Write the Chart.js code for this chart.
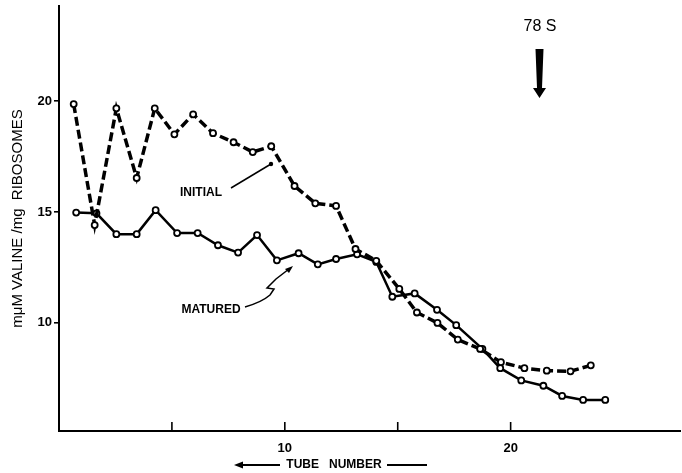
<!DOCTYPE html>
<html>
<head>
<meta charset="utf-8">
<script src="https://cdn.jsdelivr.net/npm/chart.js@4.4.1/dist/chart.umd.min.js"></script>
<style>
  body { margin: 0; background: #fff; }
  #chart { display: block; }
</style>
</head>
<body>
<canvas id="chart" width="682" height="473"></canvas>
<script>
'use strict';

// initial (dashed) curve
let tubeInitial = [0.65, 1.58, 2.54, 3.44, 4.24, 5.11, 5.94, 6.82, 7.73, 8.58, 9.40, 10.43, 11.35,
    12.27, 13.13, 14.05, 15.07, 15.85, 16.76, 17.66, 18.65, 19.57, 20.61, 21.60, 22.65, 23.55];
let valineInitial = [19.86, 14.41, 19.67, 16.53, 19.67, 18.5, 19.4, 18.55, 18.14, 17.7, 17.96, 16.17, 15.39,
    15.27, 13.33, 12.8, 11.53, 10.47, 10.0, 9.25, 8.83, 8.23, 7.96, 7.85, 7.82, 8.09];

// matured (solid) curve
let tubeMatured = [0.76, 1.66, 2.54, 3.44, 4.28, 5.23, 6.14, 7.04, 7.93, 8.77, 9.65, 10.61, 11.46,
    12.27, 13.2, 14.05, 14.76, 15.75, 16.74, 17.59, 18.75, 19.54, 20.47, 21.45, 22.28, 23.21, 24.19];
let valineMatured = [14.97, 14.94, 14.0, 14.0, 15.08, 14.05, 14.05, 13.5, 13.17, 13.96, 12.82, 13.14, 12.64,
    12.88, 13.09, 12.75, 11.18, 11.33, 10.59, 9.9, 8.83, 7.96, 7.41, 7.17, 6.71, 6.53, 6.53];

let yTicks = [10, 15, 20];
let xTickMarks = [5, 10, 15, 20];
let xTickLabels = [10, 20];

function toPoints(xs, ys) {
    return xs.map((x, i) => ({ x: x, y: ys[i] }));
}

const FONT = '"Liberation Sans", "DejaVu Sans", sans-serif';

// inward tick marks on the x axis, arrows and labels
let notesPlugin = {
    id: 'notes',
    afterDraw(chart) {
        const ctx = chart.ctx;
        const xScale = chart.scales.x;
        const bottom = chart.chartArea.bottom;
        ctx.save();
        ctx.strokeStyle = '#000';
        ctx.fillStyle = '#000';
        ctx.lineWidth = 1.6;
        xTickMarks.forEach(v => {
            let x = xScale.getPixelForValue(v);
            ctx.beginPath();
            ctx.moveTo(x, bottom);
            ctx.lineTo(x, bottom - 9);
            ctx.stroke();
        });

        // INITIAL
        ctx.font = 'bold 12px ' + FONT;
        ctx.textAlign = 'center';
        ctx.textBaseline = 'middle';
        ctx.fillText('INITIAL', 201, 193);
        ctx.lineWidth = 1.5;
        ctx.beginPath();
        ctx.moveTo(231, 188);
        ctx.lineTo(271, 164);
        ctx.stroke();
        ctx.beginPath();
        ctx.arc(271, 164, 2.2, 0, Math.PI * 2);
        ctx.fill();

        // MATURED
        ctx.fillText('MATURED', 211, 310);
        ctx.beginPath();
        ctx.moveTo(245, 307);
        ctx.quadraticCurveTo(262, 302, 270, 295);
        ctx.lineTo(274, 289);
        ctx.lineTo(267, 288);
        ctx.lineTo(276, 279);
        ctx.lineTo(289, 269);
        ctx.stroke();
        ctx.beginPath();
        ctx.moveTo(293, 266);
        ctx.lineTo(285, 269);
        ctx.lineTo(289, 273);
        ctx.closePath();
        ctx.fill();

        // 78 S
        ctx.font = '16px ' + FONT;
        ctx.fillText('78 S', 540, 27);
        ctx.beginPath();
        ctx.moveTo(535.5, 49);
        ctx.lineTo(543.5, 49);
        ctx.lineTo(542, 88);
        ctx.lineTo(546, 88);
        ctx.lineTo(539.5, 98);
        ctx.lineTo(533, 88);
        ctx.lineTo(537, 88);
        ctx.closePath();
        ctx.fill();

        // x title with arrows
        ctx.font = 'bold 12px ' + FONT;
        ctx.fillText('TUBE   NUMBER', 334, 465);
        ctx.lineWidth = 2;
        ctx.beginPath();
        ctx.moveTo(240, 465);
        ctx.lineTo(280, 465);
        ctx.moveTo(387, 465);
        ctx.lineTo(427, 465);
        ctx.stroke();
        ctx.beginPath();
        ctx.moveTo(234, 465);
        ctx.lineTo(243, 461.5);
        ctx.lineTo(243, 468.5);
        ctx.closePath();
        ctx.fill();
        ctx.restore();
    }
};

let chartObj = document.getElementById('chart').getContext('2d');

let chart = new Chart(chartObj, {
    type: 'line',
    data: {
        datasets: [{
            label: 'Initial',
            data: toPoints(tubeInitial, valineInitial),
            borderColor: '#000',
            borderWidth: 3.5,
            borderDash: [9, 4],
            pointRadius: 3,
            pointBorderWidth: 1.8,
            pointBackgroundColor: '#fff',
            pointBorderColor: '#000',
            tension: 0
        }, {
            label: 'Matured',
            data: toPoints(tubeMatured, valineMatured),
            borderColor: '#000',
            borderWidth: 2.5,
            pointRadius: 3,
            pointBorderWidth: 1.8,
            pointBackgroundColor: '#fff',
            pointBorderColor: '#000',
            tension: 0
        }]
    },
    options: {
        responsive: false,
        animation: false,
        layout: { autoPadding: false, padding: { top: 6, right: 2, left: 0, bottom: 0 } },
        plugins: {
            legend: { display: false },
            tooltip: { enabled: false }
        },
        scales: {
            x: {
                type: 'linear',
                min: 0,
                max: 27.5,
                afterBuildTicks: scale => { scale.ticks = xTickLabels.map(v => ({ value: v })); },
                afterFit: scale => {
                    scale.height = 42;
                    scale.paddingLeft = 0;
                    scale.paddingRight = 0;
                },
                grid: { display: false, drawTicks: false },
                border: { display: true, color: '#000', width: 2 },
                ticks: {
                    color: '#000',
                    padding: 10,
                    maxRotation: 0,
                    font: { family: FONT, size: 13, weight: 'bold' }
                }
            },
            y: {
                min: 5.13,
                max: 24.28,
                afterBuildTicks: scale => { scale.ticks = yTicks.map(v => ({ value: v })); },
                afterFit: scale => {
                    scale.width = 59;
                    scale.paddingTop = 0;
                    scale.paddingBottom = 0;
                },
                grid: {
                    display: true,
                    drawOnChartArea: false,
                    drawTicks: true,
                    tickLength: 5,
                    color: '#000',
                    lineWidth: 1.6
                },
                border: { display: true, color: '#000', width: 2 },
                ticks: {
                    color: '#000',
                    padding: 2,
                    font: { family: FONT, size: 13, weight: 'bold' }
                },
                title: {
                    display: true,
                    text: 'mμM VALINE /mg  RIBOSOMES',
                    color: '#000',
                    padding: { top: 9, bottom: 0 },
                    font: { family: FONT, size: 15 }
                }
            }
        }
    },
    plugins: [notesPlugin]
});
</script>
</body>
</html>
